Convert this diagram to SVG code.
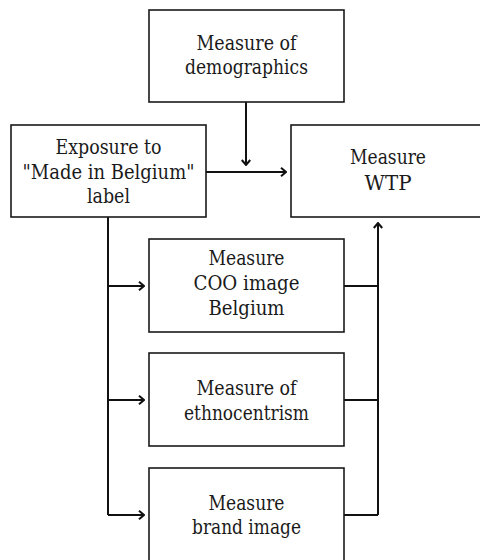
<svg xmlns="http://www.w3.org/2000/svg" width="480" height="560" viewBox="0 0 480 560">
<defs>
<style>
.box{fill:#fff;stroke:#1a1a1a;stroke-width:1.6}
.t{font-family:'DejaVu Serif','Liberation Serif','Times New Roman',serif;font-size:20px;fill:#1a1a1a;text-anchor:middle}
.c{fill:none;stroke:#111;stroke-width:2}
</style>
<marker id="ah" viewBox="0 0 10 12" refX="9" refY="6" markerWidth="10" markerHeight="12" markerUnits="userSpaceOnUse" orient="auto">
<path d="M4,1.8 L9,6 L4,10.2" fill="none" stroke="#111" stroke-width="2"/>
</marker>
</defs>
<rect width="480" height="560" fill="#fff"/>
<g id="connectors">
<path class="c" d="M246,102 V165" marker-end="url(#ah)"/>
<path class="c" d="M206,172 H286" marker-end="url(#ah)"/>
<path class="c" d="M108,217 V515"/>
<path class="c" d="M108,286 H144" marker-end="url(#ah)"/>
<path class="c" d="M108,400 H144" marker-end="url(#ah)"/>
<path class="c" d="M108,515 H144" marker-end="url(#ah)"/>
<path class="c" d="M344,286 H378 M344,400 H378 M344,515 H378"/>
<path class="c" d="M378,515 V223" marker-end="url(#ah)"/>
</g>
<g id="demographics">
<rect class="box" x="149" y="10" width="195" height="92"/>
<text class="t" x="246.5" y="50" textLength="100" lengthAdjust="spacingAndGlyphs">Measure of</text>
<text class="t" x="246.5" y="74" textLength="123" lengthAdjust="spacingAndGlyphs">demographics</text>
</g>
<g id="exposure">
<rect class="box" x="11" y="125" width="195" height="92"/>
<text class="t" x="108.5" y="154" textLength="106" lengthAdjust="spacingAndGlyphs">Exposure to</text>
<text class="t" x="108.5" y="179" textLength="172" lengthAdjust="spacingAndGlyphs">"Made in Belgium"</text>
<text class="t" x="108.5" y="203" textLength="43" lengthAdjust="spacingAndGlyphs">label</text>
</g>
<g id="wtp">
<rect class="box" x="291" y="125" width="195" height="92"/>
<text class="t" x="388" y="164" textLength="76" lengthAdjust="spacingAndGlyphs">Measure</text>
<text class="t" x="388" y="190" textLength="47" lengthAdjust="spacingAndGlyphs">WTP</text>
</g>
<g id="coo">
<rect class="box" x="149" y="239" width="195" height="93"/>
<text class="t" x="246.5" y="265" textLength="76" lengthAdjust="spacingAndGlyphs">Measure</text>
<text class="t" x="246.5" y="290" textLength="106" lengthAdjust="spacingAndGlyphs">COO image</text>
<text class="t" x="246.5" y="315" textLength="76" lengthAdjust="spacingAndGlyphs">Belgium</text>
</g>
<g id="ethno">
<rect class="box" x="149" y="353" width="195" height="93"/>
<text class="t" x="246.5" y="395" textLength="100" lengthAdjust="spacingAndGlyphs">Measure of</text>
<text class="t" x="246.5" y="420" textLength="125" lengthAdjust="spacingAndGlyphs">ethnocentrism</text>
</g>
<g id="brand">
<rect class="box" x="149" y="468" width="195" height="93"/>
<text class="t" x="246.5" y="510" textLength="76" lengthAdjust="spacingAndGlyphs">Measure</text>
<text class="t" x="246.5" y="534" textLength="109" lengthAdjust="spacingAndGlyphs">brand image</text>
</g>
</svg>
